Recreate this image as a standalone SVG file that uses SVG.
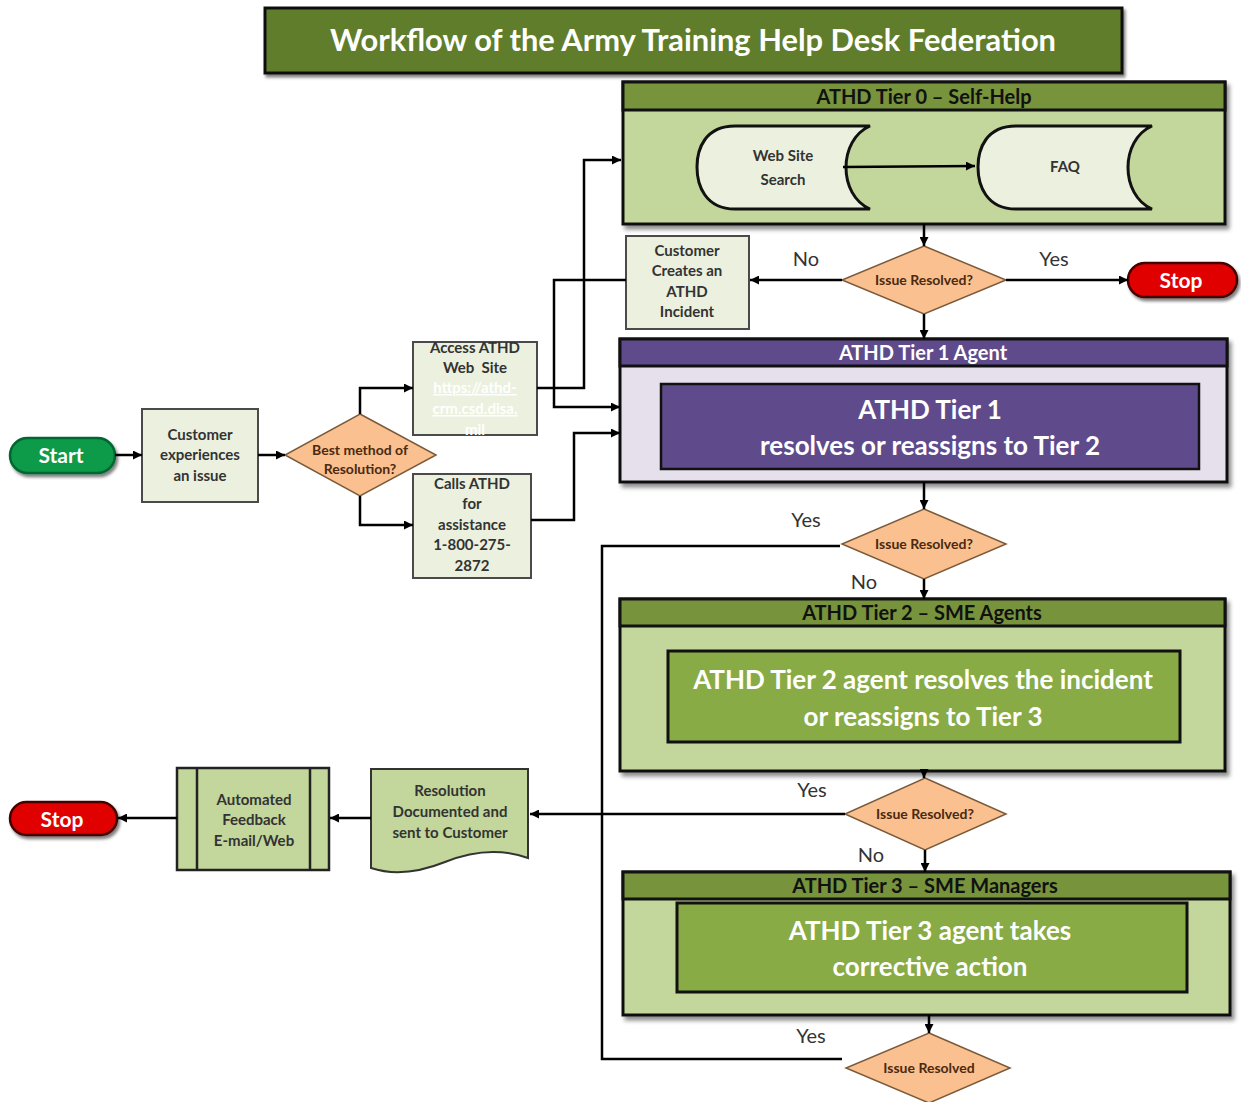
<svg xmlns="http://www.w3.org/2000/svg" width="1241" height="1102" viewBox="0 0 1241 1102">
<defs>
<marker id="arr" viewBox="0 0 10 10" refX="10" refY="5" markerWidth="9" markerHeight="9" markerUnits="userSpaceOnUse" orient="auto"><path d="M0,0 L10,5 L0,10 Z" fill="#000"/></marker>
<filter id="sh" x="-5%" y="-5%" width="110%" height="115%"><feDropShadow dx="3" dy="4" stdDeviation="2" flood-color="#000" flood-opacity="0.45"/></filter>
<filter id="sh2" x="-10%" y="-10%" width="125%" height="140%"><feDropShadow dx="2" dy="3" stdDeviation="1.5" flood-color="#000" flood-opacity="0.5"/></filter>
</defs>
<style>
text{font-family:"Lato","Open Sans","Liberation Sans",sans-serif;text-anchor:middle}
.box{fill:#ebf1de;stroke:#4a4a4a;stroke-width:2}
.gbox{fill:#c3d69b;stroke:#222;stroke-width:2.5}
.small{font-size:15px;font-weight:bold;fill:#333}
.dia{fill:#fac090;stroke:#7a5a3a;stroke-width:1.5}
.dtxt{font-size:14px;font-weight:bold;fill:#4a2a10}
.lbl{font-size:20px;fill:#333}
.hdr{font-size:20px;font-weight:bold;fill:#111}
.big{font-size:26px;font-weight:bold;fill:#fff}
.pill{font-size:21px;font-weight:bold;fill:#fff}
.con{fill:none;stroke:#000;stroke-width:2.5}
.url{font-size:15px;font-weight:bold;fill:#fff;text-decoration:underline}
</style>
<rect width="1241" height="1102" fill="#fff"/>

<g id="title">
<rect x="265" y="8" width="857" height="65" fill="#5f7d2b" stroke="#111" stroke-width="3" filter="url(#sh2)"/>
<text x="693" y="51" font-size="30" font-weight="bold" fill="#fff" textLength="726" lengthAdjust="spacingAndGlyphs">Workflow of the Army Training Help Desk Federation</text>
</g>

<g id="tier0">
<rect x="623" y="82" width="602" height="142" fill="#c3d69b" stroke="#111" stroke-width="3" filter="url(#sh)"/>
<rect x="623" y="82" width="602" height="28" fill="#77933c" stroke="#111" stroke-width="3"/>
<text class="hdr" x="924" y="104">ATHD Tier 0 – Self-Help</text>
</g>
<g id="websearch">
<path d="M735,126 H870 C838,140 838,195 870,209 H735 C705,209 697,185 697,167 C697,149 705,126 735,126 Z" fill="#ebf1de" stroke="#111" stroke-width="3"/>
<text class="small" x="783" y="161">Web Site</text>
<text class="small" x="783" y="185">Search</text>
</g>
<g id="faq">
<path d="M1016,126 H1152 C1120,140 1120,195 1152,209 H1016 C986,209 978,185 978,167 C978,149 986,126 1016,126 Z" fill="#ebf1de" stroke="#111" stroke-width="3"/>
<text class="small" x="1065" y="172">FAQ</text>
</g>

<g id="dec1">
<polygon class="dia" points="924,246 1006,280 924,314 842,280"/>
<text class="dtxt" x="924" y="285">Issue Resolved?</text>
</g>
<g id="stop1">
<rect x="1128" y="263" width="109" height="34" rx="17" fill="#e00000" stroke="#400" stroke-width="2.5" filter="url(#sh2)"/>
<text class="pill" x="1181" y="288">Stop</text>
</g>
<g id="createincident">
<rect class="box" x="626" y="236" width="123" height="93"/>
<text class="small" x="687" y="256">Customer</text>
<text class="small" x="687" y="276">Creates an</text>
<text class="small" x="687" y="297">ATHD</text>
<text class="small" x="687" y="317">Incident</text>
</g>

<g id="start">
<rect x="10" y="438" width="105" height="35" rx="17.5" fill="#0a9a48" stroke="#063" stroke-width="2.5" filter="url(#sh2)"/>
<text class="pill" x="61" y="463">Start</text>
</g>
<g id="custissue">
<rect class="box" x="142" y="409" width="116" height="93"/>
<text class="small" x="200" y="440">Customer</text>
<text class="small" x="200" y="460">experiences</text>
<text class="small" x="200" y="481">an issue</text>
</g>
<g id="bestmethod">
<polygon class="dia" points="360,414 436,455 360,496 285,455"/>
<text class="dtxt" x="360" y="455">Best method of</text>
<text class="dtxt" x="360" y="474">Resolution?</text>
</g>
<g id="access">
<rect class="box" x="413" y="342" width="124" height="93"/>
<text class="small" x="475" y="353">Access ATHD</text>
<text class="small" x="475" y="373" xml:space="preserve">Web  Site</text>
<text class="url" x="475" y="393">https://athd-</text>
<text class="url" x="475" y="414">crm.csd.disa.</text>
<text class="url" x="475" y="435">mil</text>
</g>
<g id="calls">
<rect class="box" x="413" y="474" width="118" height="104"/>
<text class="small" x="472" y="489">Calls ATHD</text>
<text class="small" x="472" y="509">for</text>
<text class="small" x="472" y="530">assistance</text>
<text class="small" x="472" y="550">1-800-275-</text>
<text class="small" x="472" y="571">2872</text>
</g>

<g id="tier1">
<rect x="620" y="339" width="607" height="143" fill="#e6e0ec" stroke="#111" stroke-width="3" filter="url(#sh)"/>
<rect x="620" y="339" width="607" height="27" fill="#5f4b8b" stroke="#111" stroke-width="3"/>
<text x="923" y="360" font-size="20" font-weight="bold" fill="#fff">ATHD Tier 1 Agent</text>
<rect x="661" y="384" width="538" height="85" fill="#5f4b8b" stroke="#111" stroke-width="2.5"/>
<text class="big" x="930" y="419">ATHD Tier 1</text>
<text class="big" x="930" y="455">resolves or reassigns to Tier 2</text>
</g>

<g id="dec2">
<polygon class="dia" points="924,509 1006,544 924,579 842,544"/>
<text class="dtxt" x="924" y="549">Issue Resolved?</text>
</g>

<g id="tier2">
<rect x="620" y="599" width="605" height="172" fill="#c3d69b" stroke="#111" stroke-width="3" filter="url(#sh)"/>
<rect x="620" y="599" width="605" height="27" fill="#77933c" stroke="#111" stroke-width="3"/>
<text class="hdr" x="922" y="620">ATHD Tier 2 – SME Agents</text>
<rect x="668" y="651" width="512" height="91" fill="#88ab45" stroke="#111" stroke-width="3"/>
<text class="big" x="923" y="689">ATHD Tier 2 agent resolves the incident</text>
<text class="big" x="923" y="726">or reassigns to Tier 3</text>
</g>

<g id="dec3">
<polygon class="dia" points="925,778 1006,814 925,850 845,814"/>
<text class="dtxt" x="925" y="819">Issue Resolved?</text>
</g>

<g id="tier3">
<rect x="623" y="872" width="607" height="143" fill="#c3d69b" stroke="#111" stroke-width="3" filter="url(#sh)"/>
<rect x="623" y="872" width="607" height="27" fill="#77933c" stroke="#111" stroke-width="3"/>
<text class="hdr" x="925" y="893">ATHD Tier 3 – SME Managers</text>
<rect x="677" y="903" width="510" height="89" fill="#88ab45" stroke="#111" stroke-width="3"/>
<text class="big" x="930" y="940">ATHD Tier 3 agent takes</text>
<text class="big" x="930" y="976">corrective action</text>
</g>

<g id="dec4">
<polygon class="dia" points="929,1033 1010,1068 929,1103 846,1068"/>
<text class="dtxt" x="929" y="1073">Issue Resolved</text>
</g>

<g id="resdoc">
<path d="M371,769 H528 V858 C500,848 470,852 445,862 C420,872 395,876 371,868 Z" fill="#c3d69b" stroke="#333" stroke-width="2"/>
<text class="small" x="450" y="796">Resolution</text>
<text class="small" x="450" y="817">Documented and</text>
<text class="small" x="450" y="838">sent to Customer</text>
</g>
<g id="feedback">
<rect class="gbox" x="177" y="768" width="152" height="102"/>
<line x1="197" y1="768" x2="197" y2="870" stroke="#222" stroke-width="2.5"/>
<line x1="310" y1="768" x2="310" y2="870" stroke="#222" stroke-width="2.5"/>
<text class="small" x="254" y="805">Automated</text>
<text class="small" x="254" y="825">Feedback</text>
<text class="small" x="254" y="846">E-mail/Web</text>
</g>
<g id="stop2">
<rect x="10" y="802" width="107" height="33" rx="16.5" fill="#e00000" stroke="#400" stroke-width="2.5" filter="url(#sh2)"/>
<text class="pill" x="62" y="827">Stop</text>
</g>

<g id="connectors">
<line class="con" x1="843" y1="167" x2="975" y2="166" marker-end="url(#arr)"/>
<line class="con" x1="924" y1="224" x2="924" y2="246" marker-end="url(#arr)"/>
<line class="con" x1="842" y1="280" x2="750" y2="280" marker-end="url(#arr)"/>
<line class="con" x1="1006" y1="280" x2="1128" y2="280" marker-end="url(#arr)"/>
<line class="con" x1="924" y1="314" x2="924" y2="339" marker-end="url(#arr)"/>
<polyline class="con" points="626,280 554,280 554,407 620,407" marker-end="url(#arr)"/>
<polyline class="con" points="537,388 584,388 584,160 621,160" marker-end="url(#arr)"/>
<polyline class="con" points="531,520 574,520 574,433 620,433" marker-end="url(#arr)"/>
<line class="con" x1="115" y1="455" x2="142" y2="455" marker-end="url(#arr)"/>
<line class="con" x1="258" y1="455" x2="285" y2="455" marker-end="url(#arr)"/>
<polyline class="con" points="360,414 360,388 413,388" marker-end="url(#arr)"/>
<polyline class="con" points="360,496 360,525 413,525" marker-end="url(#arr)"/>
<line class="con" x1="924" y1="482" x2="924" y2="509" marker-end="url(#arr)"/>
<line class="con" x1="924" y1="579" x2="924" y2="599" marker-end="url(#arr)"/>
<polyline class="con" points="840,546 602,546 602,1059 842,1059"/>
<line class="con" x1="924" y1="771" x2="924" y2="778" marker-end="url(#arr)"/>
<line class="con" x1="845" y1="814" x2="530" y2="814" marker-end="url(#arr)"/>
<line class="con" x1="925" y1="850" x2="925" y2="872" marker-end="url(#arr)"/>
<line class="con" x1="371" y1="818" x2="330" y2="818" marker-end="url(#arr)"/>
<line class="con" x1="177" y1="818" x2="118" y2="818" marker-end="url(#arr)"/>
<line class="con" x1="929" y1="1015" x2="929" y2="1033" marker-end="url(#arr)"/>
<text class="lbl" x="806" y="266">No</text>
<text class="lbl" x="1054" y="266">Yes</text>
<text class="lbl" x="806" y="527">Yes</text>
<text class="lbl" x="864" y="589">No</text>
<text class="lbl" x="812" y="797">Yes</text>
<text class="lbl" x="871" y="862">No</text>
<text class="lbl" x="811" y="1043">Yes</text>
</g>
</svg>
